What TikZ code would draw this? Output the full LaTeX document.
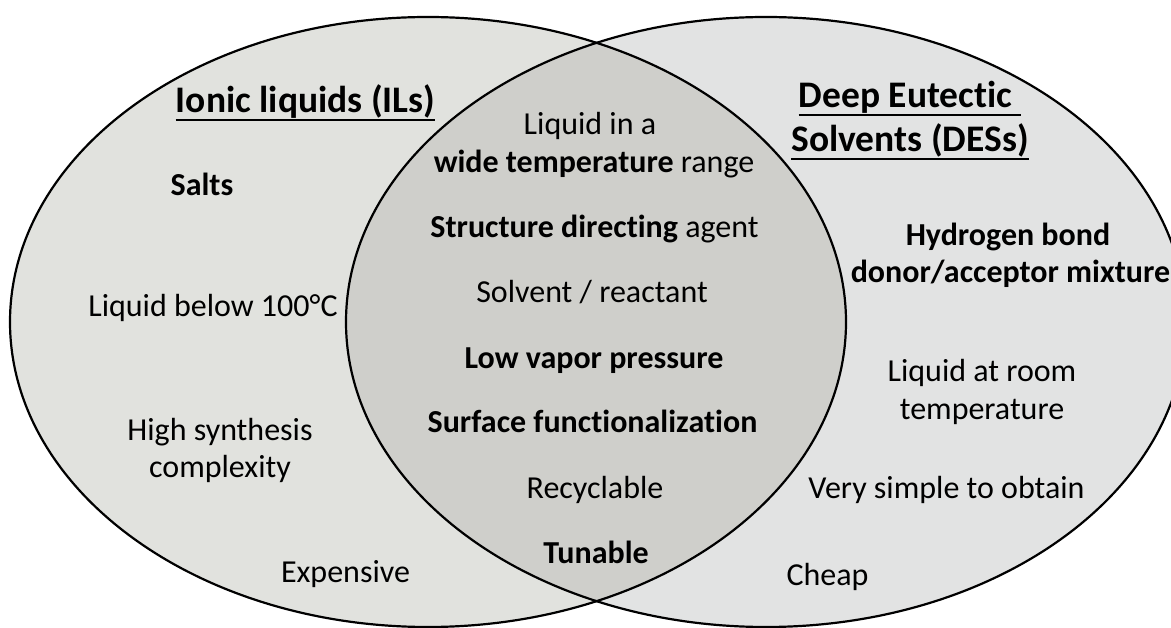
\documentclass[tikz,border=0pt]{standalone}
\usepackage{fontspec}
\setmainfont{Carlito}[Ligatures={NoCommon}]
\definecolor{ilfill}{HTML}{E1E2DE}
\definecolor{desfill}{HTML}{E2E3E3}
\definecolor{bothfill}{HTML}{CFCFCB}
\begin{document}
\begin{tikzpicture}[x=1pt,y=-1pt,
  lbl/.style={inner sep=0pt,anchor=base,font=\fontsize{32}{37}\selectfont},
  ttl/.style={inner sep=0pt,anchor=base,font=\fontsize{37.5}{44}\selectfont\bfseries},
  ring/.style={line width=2.2pt,draw=black},
  uline/.style={line width=1.8pt,draw=black}]
\useasboundingbox (0,0) rectangle (1171,628);
\begin{scope}
\clip (0,0) rectangle (1171,628);
\fill[ilfill] (428,322) ellipse [x radius=418, y radius=305];
\fill[desfill] (766,322) ellipse [x radius=420, y radius=305];
\begin{scope}
\clip (428,322) ellipse [x radius=418, y radius=305];
\fill[bothfill] (766,322) ellipse [x radius=420, y radius=305];
\end{scope}
\draw[ring] (428,322) ellipse [x radius=418, y radius=305];
\draw[ring] (766,322) ellipse [x radius=420, y radius=305];
\end{scope}
% left: ionic liquids
\node[ttl] (ilt) at (305.5,113) {Ionic liquids (ILs)};
\draw[uline] ([yshift=-1pt]ilt.south west) -- ([yshift=-1pt]ilt.south east);
\node[lbl] (salts) at (202,196) {\textbf{Salts}};
\node[lbl] (below) at (213,317) {Liquid below 100°C};
\node[lbl] (hsc1) at (220,440) {High synthesis};
\node[lbl] (hsc2) at (220,477) {complexity};
\node[lbl] (exp) at (345.5,582) {Expensive};
% centre: common
\node[lbl] (wide1) at (590,135) {Liquid in a};
\node[lbl] (wide2) at (594,173) {\textbf{wide temperature} range};
\node[lbl] (sda) at (594.5,238) {\textbf{Structure directing} agent};
\node[lbl] (solv) at (592,303) {Solvent / reactant};
\node[lbl] (lvp) at (594,369) {\textbf{Low vapor pressure}};
\node[lbl] (sf) at (592.5,433) {\textbf{Surface functionalization}};
\node[lbl] (rec) at (595,498) {Recyclable};
\node[lbl] (tun) at (596,563) {\textbf{Tunable}};
% right: deep eutectic solvents
\node[ttl] (des1) at (910,108) {Deep Eutectic\kern9pt};
\draw[uline] ([yshift=-1pt]des1.south west) -- ([yshift=-1pt]des1.south east);
\node[ttl] (des2) at (910,152) {Solvents (DESs)};
\draw[uline] ([yshift=-1pt]des2.south west) -- ([yshift=-1pt]des2.south east);
\node[lbl] (hb1) at (1008,246) {\textbf{Hydrogen bond}};
\node[lbl] (hb2) at (1010.5,283) {\textbf{donor/acceptor mixture}};
\node[lbl] (rt1) at (982,382) {Liquid at room};
\node[lbl] (rt2) at (982,420) {temperature};
\node[lbl] (simple) at (946.5,498) {Very simple to obtain};
\node[lbl] (cheap) at (827.5,585) {Cheap};
\end{tikzpicture}
\end{document}
